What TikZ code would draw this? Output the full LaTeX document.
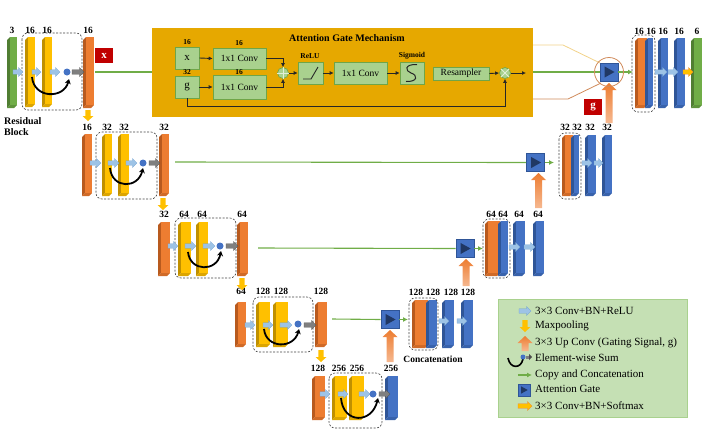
\documentclass[tikz,border=0pt]{standalone}
\usepackage{fontspec}
\setmainfont{Liberation Serif}
\usetikzlibrary{arrows.meta}
\definecolor{cgreen}{HTML}{70AD47}
\definecolor{cgreenD}{HTML}{507E32}
\definecolor{cyel}{HTML}{FFC000}
\definecolor{cyelD}{HTML}{C09000}
\definecolor{corg}{HTML}{ED7D31}
\definecolor{corgD}{HTML}{B85A1E}
\definecolor{cblue}{HTML}{4472C4}
\definecolor{cblueD}{HTML}{2F5597}
\definecolor{cnavy}{HTML}{203864}
\definecolor{lblue}{HTML}{9DC3E6}
\definecolor{lblueD}{HTML}{6E9FD0}
\definecolor{cgray}{HTML}{7F7F7F}
\definecolor{cred}{HTML}{C00000}
\definecolor{agbox}{HTML}{E6A800}
\definecolor{ingreen}{HTML}{A9D18E}
\definecolor{ingreenD}{HTML}{6FA548}
\definecolor{legfill}{HTML}{C5E0B4}
\definecolor{tanline}{HTML}{F2D38A}
\definecolor{brline}{HTML}{D08A5A}
\definecolor{lorg}{HTML}{F6B890}
\newcommand\myfs[1]{\fontsize{#1}{#1}\selectfont}
% 3D bar: x0 y0 x1 y1 front side
\newcommand\blk[6]{%
  \fill[#6] ({#1+3},{#2}) -- ({#1},{#2+3}) -- ({#1},{#4}) -- ({#1+3},{#4-3}) -- cycle;
  \fill[#6!55!#5] ({#1},{#4}) -- ({#3-3},{#4}) -- ({#3},{#4-3}) -- ({#1+3},{#4-3}) -- cycle;
  \fill[#5] ({#1+3},{#2}) rectangle ({#3},{#4-3});}
% right block arrow: x0 x1 y fill draw
\newcommand\rarr[5]{%
  \filldraw[fill=#4,draw=#5,line width=0.3pt] ({#1},{#3-2.2}) -- ({#2-4.5},{#3-2.2}) -- ({#2-4.5},{#3-4.5}) -- ({#2},{#3}) -- ({#2-4.5},{#3+4.5}) -- ({#2-4.5},{#3+2.2}) -- ({#1},{#3+2.2}) -- cycle;}
% down yellow arrow: x y0 y1
\newcommand\darr[3]{%
  \fill[cyel] ({#1-2.6},{#2}) -- ({#1+2.6},{#2}) -- ({#1+2.6},{#3-5}) -- ({#1+5.5},{#3-5}) -- ({#1},{#3}) -- ({#1-5.5},{#3-5}) -- ({#1-2.6},{#3-5}) -- cycle;}
% up orange arrow: x ybottom ytip
\newcommand\uarr[3]{%
  \shade[top color=corg,bottom color=lorg] ({#1-3.5},{#2}) -- ({#1+3.5},{#2}) -- ({#1+3.5},{#3+7}) -- ({#1+7.5},{#3+7}) -- ({#1},{#3}) -- ({#1-7.5},{#3+7}) -- ({#1-3.5},{#3+7}) -- cycle;}
% attention gate: name cx cy halfsize
\newcommand\agate[4]{%
  \node[fill=cblue,draw=cblueD,line width=0.6pt,inner sep=0,minimum width={2*#4},minimum height={2*#4}] (#1) at (#2,#3) {};
  \fill[cnavy] ({#2-0.5*#4},{#3-0.62*#4}) -- ({#2+0.62*#4},{#3}) -- ({#2-0.5*#4},{#3+0.62*#4}) -- cycle;}
\begin{document}
\begin{tikzpicture}[x=1pt,y=-1pt,
 lbl/.style={font=\myfs{9.5}\bfseries, inner sep=0},
 slbl/.style={font=\myfs{7.5}\bfseries, inner sep=0},
 dbox/.style={draw=black!75, line width=0.6pt, rounded corners=6pt, dash pattern=on 2pt off 1.5pt},
 carc/.style={line width=1.8pt, -{Stealth[length=5pt,width=6pt]}},
 gl/.style={draw=cgreen, line width=1.1pt},
 ga/.style={gl, -{Latex[length=5pt,width=5pt]}},
 ibox/.style={draw=ingreenD, fill=ingreen, line width=0.6pt, inner sep=0, font=\myfs{9.5}},
 ar/.style={-{Latex[length=4pt,width=4pt]}, line width=0.9pt, draw=black!85},
 redbox/.style={fill=cred, text=white, font=\myfs{11}\bfseries, minimum width=18pt, minimum height=15pt, inner sep=0},
 leg/.style={anchor=west, font=\myfs{11}, inner sep=0}]
\useasboundingbox (0,0) rectangle (708,429);

% ---------- green skip lines (under the attention box) ----------
\coordinate (s1) at (95,72);
\coordinate (s2) at (175,162);
\coordinate (s3) at (258,248);
\coordinate (s4) at (332,319);
\agate{ag1}{609}{72}{9}
\agate{ag2}{535.5}{162.5}{9}
\agate{ag3}{465}{248.5}{9}
\agate{ag4}{390}{319.5}{9}
\draw[gl] (s1) -- (ag1.west);
\draw[gl] (s2) -- (ag2.west);
\draw[gl] (s3) -- (ag3.west);
\draw[gl] (s4) -- (ag4.west);
\coordinate (d1) at (633,72);
\coordinate (d2) at (554,162.5);
\coordinate (d3) at (483,248.5);
\coordinate (d4) at (408,319.5);
\draw[ga] (ag1.east) -- (d1);
\draw[ga] (ag2.east) -- (d2);
\draw[ga] (ag3.east) -- (d3);
\draw[ga] (ag4.east) -- (d4);

% ---------- Level 1 encoder ----------
\blk{7}{37}{17}{108}{cgreen}{cgreenD}
\blk{25}{37}{35}{107}{cyel}{cyelD}
\blk{42}{37}{52}{107}{cyel}{cyelD}
\blk{83}{37}{94}{108}{corg}{corgD}
\draw[dbox] (22,33) rectangle (82,110);
\foreach \x/\t [count=\i] in {12/3,30/16,47/16,88/16} \node[lbl] (La\i) at (\x,30) {\t};
\rarr{13}{23}{72}{lblue}{lblueD}
\rarr{32}{41}{72}{lblue}{lblueD}
\rarr{50}{60}{72}{lblue}{lblueD}
\fill[cblue] (67,72) circle (3.5);
\rarr{72}{84}{72}{cgray}{black!70}
\draw[carc] (32,77) .. controls (34,99) and (64,99) .. (69,79);
\node[redbox] (xr) at (104,55.5) {x};
\node[anchor=west, align=left, font=\myfs{10}\bfseries, inner sep=0] (rb) at (4,126.5) {Residual\\[1.5pt]Block};

% ---------- Level 2 encoder ----------
\blk{82}{134}{92}{196}{corg}{corgD}
\blk{102}{134}{112}{196}{cyel}{cyelD}
\blk{118}{134}{129}{196}{cyel}{cyelD}
\blk{159}{134}{169}{196}{corg}{corgD}
\draw[dbox] (96,132) rectangle (157,199);
\foreach \x/\t [count=\i] in {87/16,107/32,124/32,164/32} \node[lbl] (Lb\i) at (\x,127) {\t};
\rarr{90}{101}{163}{lblue}{lblueD}
\rarr{108}{119}{163}{lblue}{lblueD}
\rarr{126}{137}{163}{lblue}{lblueD}
\fill[cblue] (143,163) circle (3.5);
\rarr{149}{160}{163}{cgray}{black!70}
\draw[carc] (110,168) .. controls (112,189) and (138,189) .. (143,168);

% ---------- Level 3 encoder ----------
\blk{158}{222}{170}{276}{corg}{corgD}
\blk{178}{222}{191}{276}{cyel}{cyelD}
\blk{196}{222}{208}{276}{cyel}{cyelD}
\blk{237}{222}{248}{276}{corg}{corgD}
\draw[dbox] (175,218) rectangle (236,278);
\foreach \x/\t [count=\i] in {164/32,184/64,202/64,242/64} \node[lbl] (Lc\i) at (\x,214) {\t};
\rarr{168}{178}{246}{lblue}{lblueD}
\rarr{185}{196}{246}{lblue}{lblueD}
\rarr{203}{215}{246}{lblue}{lblueD}
\fill[cblue] (220,246) circle (3.5);
\rarr{226}{238}{246}{cgray}{black!70}
\draw[carc] (188,252) .. controls (190,272) and (217,272) .. (221,251);

% ---------- Level 4 encoder ----------
\blk{235}{302}{246}{347}{corg}{corgD}
\blk{256}{302}{270}{347}{cyel}{cyelD}
\blk{273}{302}{288}{347}{cyel}{cyelD}
\blk{315}{302}{327}{347}{corg}{corgD}
\draw[dbox] (253,297) rectangle (313,352);
\foreach \x/\t [count=\i] in {241/64,263/128,281/128,321/128} \node[lbl] (Ld\i) at (\x,291) {\t};
\rarr{245}{255}{325}{lblue}{lblueD}
\rarr{263}{273}{325}{lblue}{lblueD}
\rarr{280}{292}{325}{lblue}{lblueD}
\fill[cblue] (298,324) circle (3.5);
\rarr{304}{316}{325}{cgray}{black!70}
\draw[carc] (264,329) .. controls (266,349) and (294,349) .. (299,329);

% ---------- Level 5 (bottleneck) ----------
\blk{312}{376}{325}{420}{corg}{corgD}
\blk{332}{376}{347}{420}{cyel}{cyelD}
\blk{349}{376}{364}{420}{cyel}{cyelD}
\blk{385}{376}{398}{420}{cblue}{cblueD}
\draw[dbox] (329,373) rectangle (382,428);
\foreach \x/\t [count=\i] in {318/128,339/256,357/256,391/256} \node[lbl] (Le\i) at (\x,368) {\t};
\rarr{320}{330}{394}{lblue}{lblueD}
\rarr{338}{348}{394}{lblue}{lblueD}
\rarr{359}{370}{394}{lblue}{lblueD}
\fill[cblue] (373,394) circle (3.5);
\rarr{379}{390}{394}{cgray}{black!70}
\draw[carc] (341,398) .. controls (343,424) and (372,424) .. (378,398);

% ---------- max pooling ----------
\darr{88}{110}{121}
\darr{163}{198}{210}
\darr{242}{278}{290}
\darr{321}{350}{362}

% ---------- decoder level 4 ----------
\blk{412}{300}{428}{348}{corg}{corgD}
\blk{426}{300}{437}{348}{cblue}{cblueD}
\blk{442}{300}{454}{348}{cblue}{cblueD}
\blk{461}{300}{473}{348}{cblue}{cblueD}
\draw[dbox] (409,298) rectangle (438,350);
\foreach \x/\t [count=\i] in {416/128,433/128,451/128,468/128} \node[lbl] (Lf\i) at (\x,292) {\t};
\rarr{439}{449}{321}{lblue}{lblueD}
\rarr{457}{467}{321}{lblue}{lblueD}
\node[font=\myfs{9.5}\bfseries, inner sep=0] (cc) at (433,359) {Concatenation};

% ---------- decoder level 3 ----------
\blk{485}{221}{500}{276}{corg}{corgD}
\blk{498}{221}{508}{276}{cblue}{cblueD}
\blk{513}{221}{525}{276}{cblue}{cblueD}
\blk{533}{221}{544}{276}{cblue}{cblueD}
\draw[dbox] (483,219) rectangle (510,278);
\foreach \x/\t [count=\i] in {491/64,503/64,519/64,538/64} \node[lbl] (Lg\i) at (\x,214) {\t};
\rarr{509}{520}{247}{lblue}{lblueD}
\rarr{524}{535}{247}{lblue}{lblueD}

% ---------- decoder level 2 ----------
\blk{562}{135}{573}{196}{corg}{corgD}
\blk{571}{135}{579}{196}{cblue}{cblueD}
\blk{585}{135}{596}{196}{cblue}{cblueD}
\blk{602}{135}{612}{196}{cblue}{cblueD}
\draw[dbox] (559,133) rectangle (581,199);
\foreach \x/\t [count=\i] in {565/32,577/32,590/32,607/32} \node[lbl] (Lh\i) at (\x,127) {\t};
\rarr{582}{592}{163}{lblue}{lblueD}
\rarr{594}{603}{163}{lblue}{lblueD}

% ---------- decoder level 1 ----------
\blk{635}{38}{647}{108}{corg}{corgD}
\blk{645}{38}{653}{108}{cblue}{cblueD}
\blk{658}{38}{668}{108}{cblue}{cblueD}
\blk{674}{38}{685}{108}{cblue}{cblueD}
\blk{691}{38}{702}{108}{cgreen}{cgreenD}
\draw[dbox] (632,35) rectangle (655,112);
\foreach \x/\t [count=\i] in {639/16,651/16,663/16,679/16,697/6} \node[lbl] (Li\i) at (\x,31) {\t};
\rarr{655}{667}{72}{lblue}{lblueD}
\rarr{668}{678}{72}{lblue}{lblueD}
\rarr{683}{693}{72}{cyel}{corg}

% ---------- up convolutions ----------
\uarr{390}{362}{330}
\uarr{466}{286}{259}
\uarr{538.5}{208}{173}
\uarr{609}{123}{83}
\node[redbox, minimum height=16pt] (gr) at (593,107) {g};

% ---------- attention gate mechanism ----------
\node[fill=agbox, minimum width=381pt, minimum height=89pt, anchor=north west, inner sep=0] (agm) at (152,28) {};
\node[font=\myfs{10}\bfseries, inner sep=0] (agt) at (347,38) {Attention Gate Mechanism};
\node[ibox, minimum width=24pt, minimum height=22pt, font=\myfs{11}] (xb) at (187,58) {x};
\node[ibox, minimum width=24pt, minimum height=22pt, font=\myfs{11}] (gb) at (187,87) {g};
\node[ibox, minimum width=53pt, minimum height=21pt] (cA) at (239.5,58.5) {1x1 Conv};
\node[ibox, minimum width=53pt, minimum height=24pt] (cB) at (239.5,87) {1x1 Conv};
\node[ibox, circle, minimum size=11pt] (plus) at (283,73) {};
\draw[white!65!ingreen, line width=0.8pt] (plus.north) -- (plus.south) (plus.west) -- (plus.east);
\node[ibox, minimum width=25pt, minimum height=22pt] (relu) at (310.5,73) {};
\draw[black!85, line width=0.9pt] (303,79) -- (311,79) -- (318,67);
\node[ibox, minimum width=53pt, minimum height=22pt] (cC) at (360.5,73) {1x1 Conv};
\node[ibox, minimum width=24pt, minimum height=22pt] (sig) at (412,73) {};
\draw[black!85, line width=1pt] (417,64.5) .. controls (404,64) and (405,71) .. (411,73) .. controls (418,75) and (418,82) .. (406,81.5);
\node[ibox, minimum width=56pt, minimum height=13pt] (res) at (461,73.5) {Resampler};
\node[ibox, circle, minimum size=11pt] (times) at (505,73) {};
\draw[white!65!ingreen, line width=0.8pt] (times.north west) -- (times.south east) (times.north east) -- (times.south west);
\node[slbl] (n1) at (187,42) {16};
\node[slbl] (n2) at (239,43) {16};
\node[slbl] (n3) at (187,72.5) {32};
\node[slbl] (n4) at (239,72.5) {16};
\node[slbl] (n5) at (310,56) {ReLU};
\node[slbl] (n6) at (412,56) {Sigmoid};
\draw[ar] (xb.east) -- (cA.west);
\draw[ar] (gb.east) -- (cB.west);
\draw[ar] (cA.east) -| (plus.north);
\draw[ar] (cB.east) -| (plus.south);
\draw[ar] (plus.east) -- (relu.west);
\draw[ar] (relu.east) -- (cC.west);
\draw[ar] (cC.east) -- (sig.west);
\draw[ar] (res.east) -- (times.west);
\coordinate (aout) at (526,73);
\draw[ar] (times.east) -- (aout);
\coordinate (gl1) at (187,106);
\draw[ar] (gb.south) -- (gl1) -| (times.south);

% ---------- zoom lines to gate ----------
\coordinate (t1) at (533,45);
\coordinate (t2) at (563,45);
\coordinate (t3) at (600,63);
\coordinate (b1) at (533,99);
\coordinate (b2) at (568,99);
\coordinate (b3) at (601,83);
\draw[tanline, line width=0.8pt] (t1) -- (t2) -- (t3);
\draw[brline, line width=0.8pt] (b1) -- (b2) -- (b3);
\draw[brline, line width=0.8pt] (ag1) circle (14.5);

% ---------- legend ----------
\node[fill=legfill, draw=ingreen, line width=0.8pt, minimum width=189pt, minimum height=118pt, anchor=north west, inner sep=0] (lg) at (498,299) {};
\rarr{519}{531}{311}{lblue}{lblueD}
\darr{525}{320}{332}
\uarr{525}{351}{336}
\draw[line width=1.6pt] (508,358) .. controls (510,369) and (521,369) .. (523,359);
\fill[cblue] (523,357) circle (2.5);
\fill[cgray] (526,355.5) rectangle (529,358.5);
\fill[black!70] (529,354) -- (532,357) -- (529,360) -- cycle;
\coordinate (l5a) at (518,375);
\coordinate (l5b) at (532,375);
\draw[ga] (l5a) -- (l5b);
\agate{lag}{524}{390}{6}
\rarr{518}{532}{406}{cyel}{corg}
\node[leg] (e1) at (535,311) {3×3 Conv+BN+ReLU};
\node[leg] (e2) at (535,326) {Maxpooling};
\node[leg] (e3) at (535,343) {3×3 Up Conv (Gating Signal, g)};
\node[leg] (e4) at (535,358) {Element-wise Sum};
\node[leg] (e5) at (535,375) {Copy and Concatenation};
\node[leg] (e6) at (535,389) {Attention Gate};
\node[leg] (e7) at (535,406) {3×3 Conv+BN+Softmax};
\end{tikzpicture}
\end{document}
